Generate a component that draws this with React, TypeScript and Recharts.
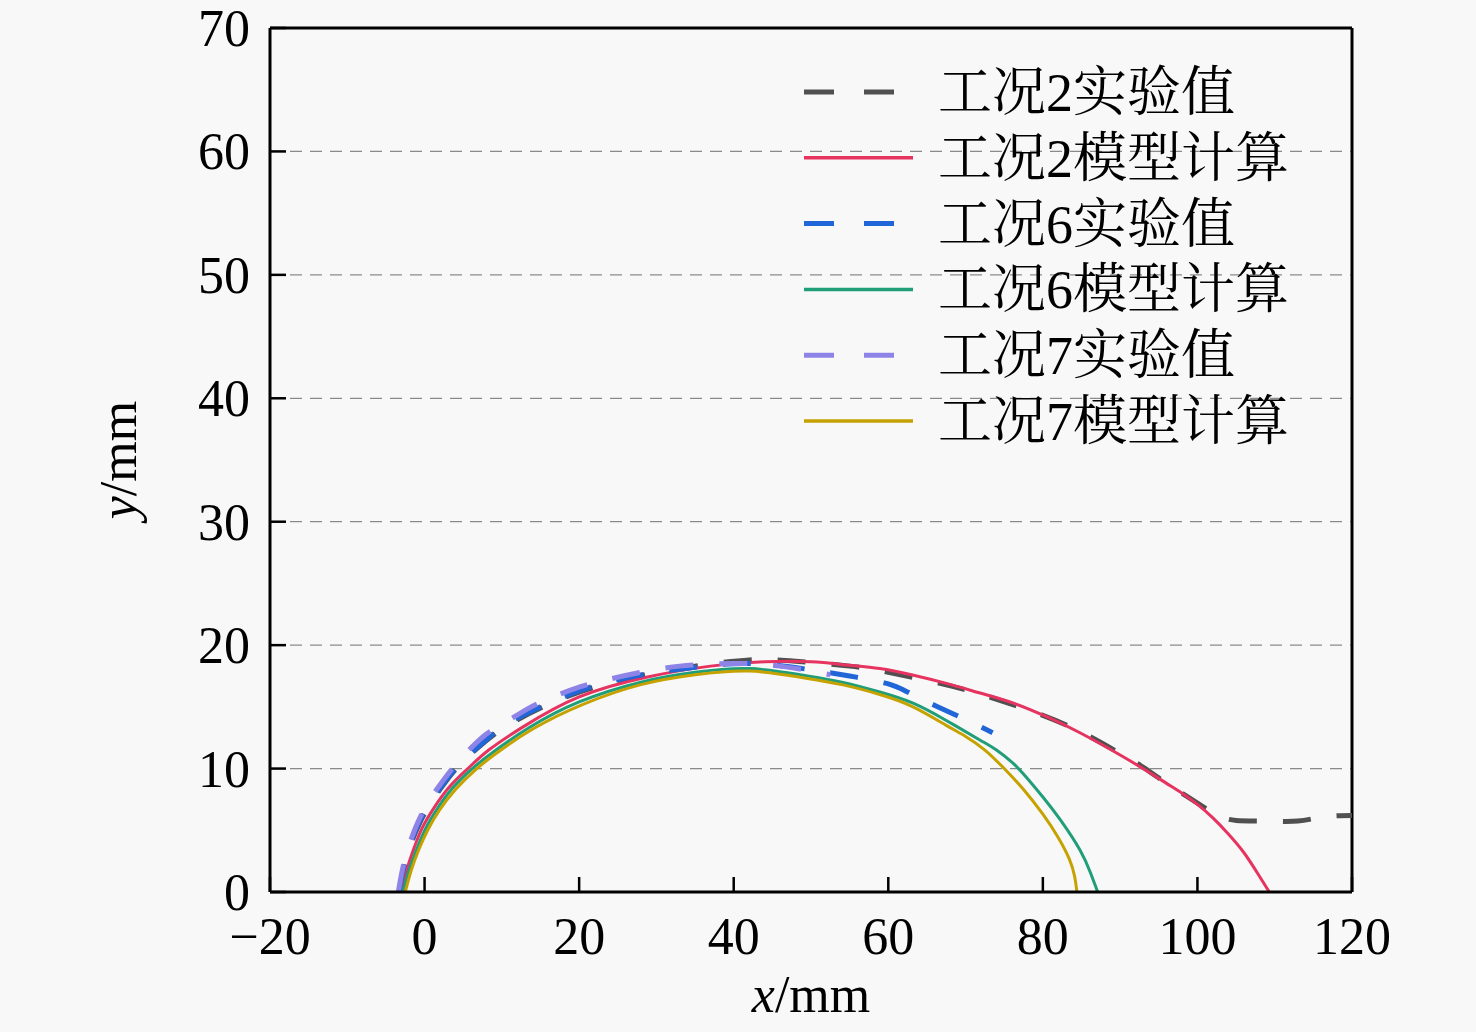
import React from 'react';
import { LineChart, Line, XAxis, YAxis, CartesianGrid, ReferenceLine, Legend } from 'recharts';

type P = { x: number; y: number };

const exp2: P[] = [
  { x: -3.2, y: 0 }, { x: -2.6, y: 2 }, { x: -1.8, y: 3.8 }, { x: -0.7, y: 5.5 }, { x: 0.8, y: 7.2 },
  { x: 2.8, y: 9 }, { x: 5, y: 10.6 }, { x: 7.5, y: 12 }, { x: 10.5, y: 13.4 }, { x: 15, y: 14.9 },
  { x: 20, y: 16.2 }, { x: 25, y: 17.1 }, { x: 30, y: 17.8 }, { x: 35, y: 18.3 }, { x: 42, y: 18.8 },
  { x: 48, y: 18.7 }, { x: 55, y: 18.3 }, { x: 60, y: 17.8 }, { x: 66, y: 17.0 }, { x: 71, y: 16.2 },
  { x: 76.5, y: 15.1 }, { x: 83.5, y: 13.4 }, { x: 89.5, y: 11.4 }, { x: 93, y: 10.1 }, { x: 96, y: 8.8 },
  { x: 99, y: 7.6 }, { x: 101.5, y: 6.6 }, { x: 103, y: 6.1 }, { x: 105, y: 5.8 }, { x: 109, y: 5.75 },
  { x: 113, y: 5.75 }, { x: 116.5, y: 6.1 }, { x: 120, y: 6.2 },
];

const model2: P[] = [
  { x: -3.0, y: 0 }, { x: -2.3, y: 1.8 }, { x: -1.4, y: 3.5 }, { x: -0.3, y: 5.2 }, { x: 1.2, y: 6.8 },
  { x: 3.2, y: 8.5 }, { x: 5.6, y: 10 }, { x: 8.3, y: 11.5 }, { x: 12.8, y: 13.4 }, { x: 20, y: 15.8 },
  { x: 28.7, y: 17.4 }, { x: 37, y: 18.3 }, { x: 44, y: 18.65 }, { x: 50, y: 18.65 }, { x: 54.5, y: 18.4 },
  { x: 58.9, y: 18.1 }, { x: 63, y: 17.6 }, { x: 67.5, y: 16.9 }, { x: 72, y: 16.1 }, { x: 76.2, y: 15.3 },
  { x: 80.5, y: 14.2 }, { x: 84.8, y: 12.9 }, { x: 90, y: 11.1 }, { x: 94, y: 9.6 }, { x: 96, y: 8.8 },
  { x: 98, y: 8.0 }, { x: 100, y: 7.1 }, { x: 102, y: 6.0 }, { x: 104, y: 4.7 }, { x: 106, y: 3.2 },
  { x: 107.8, y: 1.5 }, { x: 109.3, y: 0 },
];

const exp6: P[] = [
  { x: -3.3, y: 0 }, { x: -2.7, y: 2 }, { x: -1.9, y: 3.8 }, { x: -0.8, y: 5.5 }, { x: 0.7, y: 7.2 },
  { x: 2.7, y: 9 }, { x: 4.9, y: 10.6 }, { x: 7.4, y: 12 }, { x: 10.4, y: 13.5 }, { x: 15, y: 15.0 },
  { x: 20, y: 16.3 }, { x: 25, y: 17.2 }, { x: 30, y: 17.8 }, { x: 35, y: 18.2 }, { x: 40, y: 18.5 },
  { x: 45, y: 18.4 }, { x: 50, y: 18.0 }, { x: 55, y: 17.5 }, { x: 59.8, y: 16.9 }, { x: 62.5, y: 16.2 },
  { x: 65.4, y: 15.3 }, { x: 68.5, y: 14.4 }, { x: 71.9, y: 13.4 }, { x: 73.5, y: 12.9 },
];

const model6: P[] = [
  { x: -2.8, y: 0 }, { x: -2.0, y: 1.8 }, { x: -1.0, y: 3.5 }, { x: 0.1, y: 5.1 }, { x: 1.6, y: 6.7 },
  { x: 3.6, y: 8.4 }, { x: 6, y: 9.9 }, { x: 8.8, y: 11.3 }, { x: 13.5, y: 13.3 }, { x: 20, y: 15.4 },
  { x: 28, y: 17.0 }, { x: 35, y: 17.8 }, { x: 42, y: 18.1 }, { x: 48.6, y: 17.6 }, { x: 54, y: 17.0 },
  { x: 58.9, y: 16.2 }, { x: 63.2, y: 15.3 }, { x: 67.5, y: 13.9 }, { x: 71.9, y: 12.3 }, { x: 74, y: 11.5 },
  { x: 76.2, y: 10.4 }, { x: 78, y: 9.2 }, { x: 80, y: 7.7 }, { x: 82.2, y: 5.9 }, { x: 84.8, y: 3.4 },
  { x: 86.2, y: 1.5 }, { x: 87.1, y: 0 },
];

const exp7: P[] = [
  { x: -3.4, y: 0 }, { x: -2.8, y: 2 }, { x: -2.0, y: 3.8 }, { x: -0.9, y: 5.6 }, { x: 0.6, y: 7.4 },
  { x: 2.6, y: 9.2 }, { x: 4.4, y: 10.6 }, { x: 5.9, y: 11.6 }, { x: 8, y: 12.8 }, { x: 10.6, y: 13.8 },
  { x: 13.5, y: 14.9 }, { x: 16.6, y: 15.8 }, { x: 20, y: 16.6 }, { x: 23.6, y: 17.2 }, { x: 28, y: 17.8 },
  { x: 33, y: 18.3 }, { x: 38, y: 18.5 }, { x: 42, y: 18.5 }, { x: 46, y: 18.3 }, { x: 50, y: 17.9 },
  { x: 52.5, y: 17.6 },
];

const model7: P[] = [
  { x: -2.5, y: 0 }, { x: -1.7, y: 1.8 }, { x: -0.7, y: 3.5 }, { x: 0.4, y: 5.0 }, { x: 1.9, y: 6.6 },
  { x: 4, y: 8.3 }, { x: 6.4, y: 9.8 }, { x: 9.2, y: 11.2 }, { x: 14, y: 13.2 }, { x: 20.5, y: 15.2 },
  { x: 28, y: 16.8 }, { x: 35, y: 17.6 }, { x: 42, y: 17.9 }, { x: 48.6, y: 17.4 }, { x: 54, y: 16.8 },
  { x: 58.9, y: 16.0 }, { x: 63.2, y: 15.0 }, { x: 67.5, y: 13.5 }, { x: 70, y: 12.6 }, { x: 72.5, y: 11.5 },
  { x: 75, y: 10.0 }, { x: 77.5, y: 8.3 }, { x: 80, y: 6.3 }, { x: 82, y: 4.4 }, { x: 83.4, y: 2.7 },
  { x: 84.1, y: 1.3 }, { x: 84.4, y: 0 },
];

const xTicks = [-20, 0, 20, 40, 60, 80, 100, 120];
const yTicks = [0, 10, 20, 30, 40, 50, 60, 70];

const seriesNames = ['工况2实验值', '工况2模型计算', '工况6实验值', '工况6模型计算', '工况7实验值', '工况7模型计算'];
const seriesColors = ['#505050', '#e6335f', '#2166d8', '#1f9e78', '#8e84e8', '#c6a200'];
const seriesDashed = [true, false, true, false, true, false];
const seriesData = [exp2, model2, exp6, model6, exp7, model7];

const FONT = "'Liberation Serif', 'Times New Roman', serif";
const LEGEND_FONT = "'Liberation Serif', 'Noto Serif CJK SC', 'Noto Sans CJK SC', serif";

const fmt = (v: number) => (v < 0 ? `\u2212${Math.abs(v)}` : `${v}`);

const XTick = (props: any) => {
  const { x, y, payload } = props;
  return (
    <g>
      <line x1={x} x2={x} y1={y} y2={y - 15} stroke="#000" strokeWidth={2.5} />
      <text x={x} y={y + 62} textAnchor="middle" fontSize={52} fontFamily={FONT} fill="#000">
        {fmt(payload.value)}
      </text>
    </g>
  );
};

const YTick = (props: any) => {
  const { x, y, payload } = props;
  return (
    <g>
      <line x1={x} x2={x + 16} y1={y} y2={y} stroke="#000" strokeWidth={2.5} />
      <text x={x - 20} y={y + 18} textAnchor="end" fontSize={52} fontFamily={FONT} fill="#000">
        {fmt(payload.value)}
      </text>
    </g>
  );
};

const XLabel = (props: any) => {
  const vb = props.viewBox || {};
  const cx = vb.x + vb.width / 2;
  return (
    <text x={cx} y={vb.y + 120} textAnchor="middle" fontSize={52} fontFamily={FONT} fill="#000">
      <tspan fontStyle="italic">x</tspan>/mm
    </text>
  );
};

const YLabel = (props: any) => {
  const vb = props.viewBox || {};
  const cy = vb.y + vb.height / 2;
  const lx = 136;
  return (
    <text x={lx} y={cy} transform={`rotate(-90 ${lx} ${cy})`} textAnchor="middle" fontSize={52} fontFamily={FONT} fill="#000">
      <tspan fontStyle="italic">y</tspan>/mm
    </text>
  );
};

const LegendContent = () => (
  <svg width={560} height={410} style={{ display: 'block' }}>
    {seriesNames.map((name, i) => {
      const cy = 37 + i * 65.8;
      return (
        <g key={name}>
          <line
            x1={14}
            x2={123}
            y1={cy}
            y2={cy}
            stroke={seriesColors[i]}
            strokeWidth={seriesDashed[i] ? 5 : 3.5}
            strokeDasharray={seriesDashed[i] ? '30 30' : undefined}
          />
          <text x={148} y={cy + 19} fontSize={54} fontFamily={LEGEND_FONT} fill="#000">
            {name}
          </text>
        </g>
      );
    })}
  </svg>
);

export default function App() {
  return (
    <div style={{ position: 'absolute', left: 0, top: 0, width: 1476, height: 1032, background: '#f8f8f8' }}>
      <LineChart width={1476} height={1032} margin={{ top: 28, right: 124, bottom: 0, left: 150 }}>
        <CartesianGrid vertical={false} stroke="#8a8a8a" strokeWidth={1.3} strokeDasharray="12 8" />
        <XAxis
          type="number"
          dataKey="x"
          domain={[-20, 120]}
          ticks={xTicks}
          allowDataOverflow
          height={140}
          tickSize={0}
          tickMargin={0}
          tickLine={false}
          tick={<XTick />}
          axisLine={{ stroke: '#000', strokeWidth: 3 }}
          label={<XLabel />}
          interval={0}
        />
        <YAxis
          type="number"
          dataKey="y"
          domain={[0, 70]}
          ticks={yTicks}
          allowDataOverflow
          width={120}
          tickSize={0}
          tickMargin={0}
          tickLine={false}
          tick={<YTick />}
          axisLine={{ stroke: '#000', strokeWidth: 3 }}
          label={<YLabel />}
          interval={0}
        />
        <ReferenceLine y={70} stroke="#000" strokeWidth={3} />
        <ReferenceLine x={120} stroke="#000" strokeWidth={3} />
        {seriesData.map((d, i) => (
          <Line
            key={seriesNames[i]}
            data={d}
            dataKey="y"
            name={seriesNames[i]}
            type="natural"
            stroke={seriesColors[i]}
            strokeWidth={seriesDashed[i] ? 5 : 3}
            strokeDasharray={seriesDashed[i] ? '28 26' : undefined}
            dot={false}
            activeDot={false}
            isAnimationActive={false}
          />
        ))}
        <Legend
          layout="horizontal"
          verticalAlign="middle"
          align="center"
          content={<LegendContent />}
          wrapperStyle={{ position: 'absolute', left: 790, top: 55, width: 560, height: 410 }}
        />
      </LineChart>
    </div>
  );
}
